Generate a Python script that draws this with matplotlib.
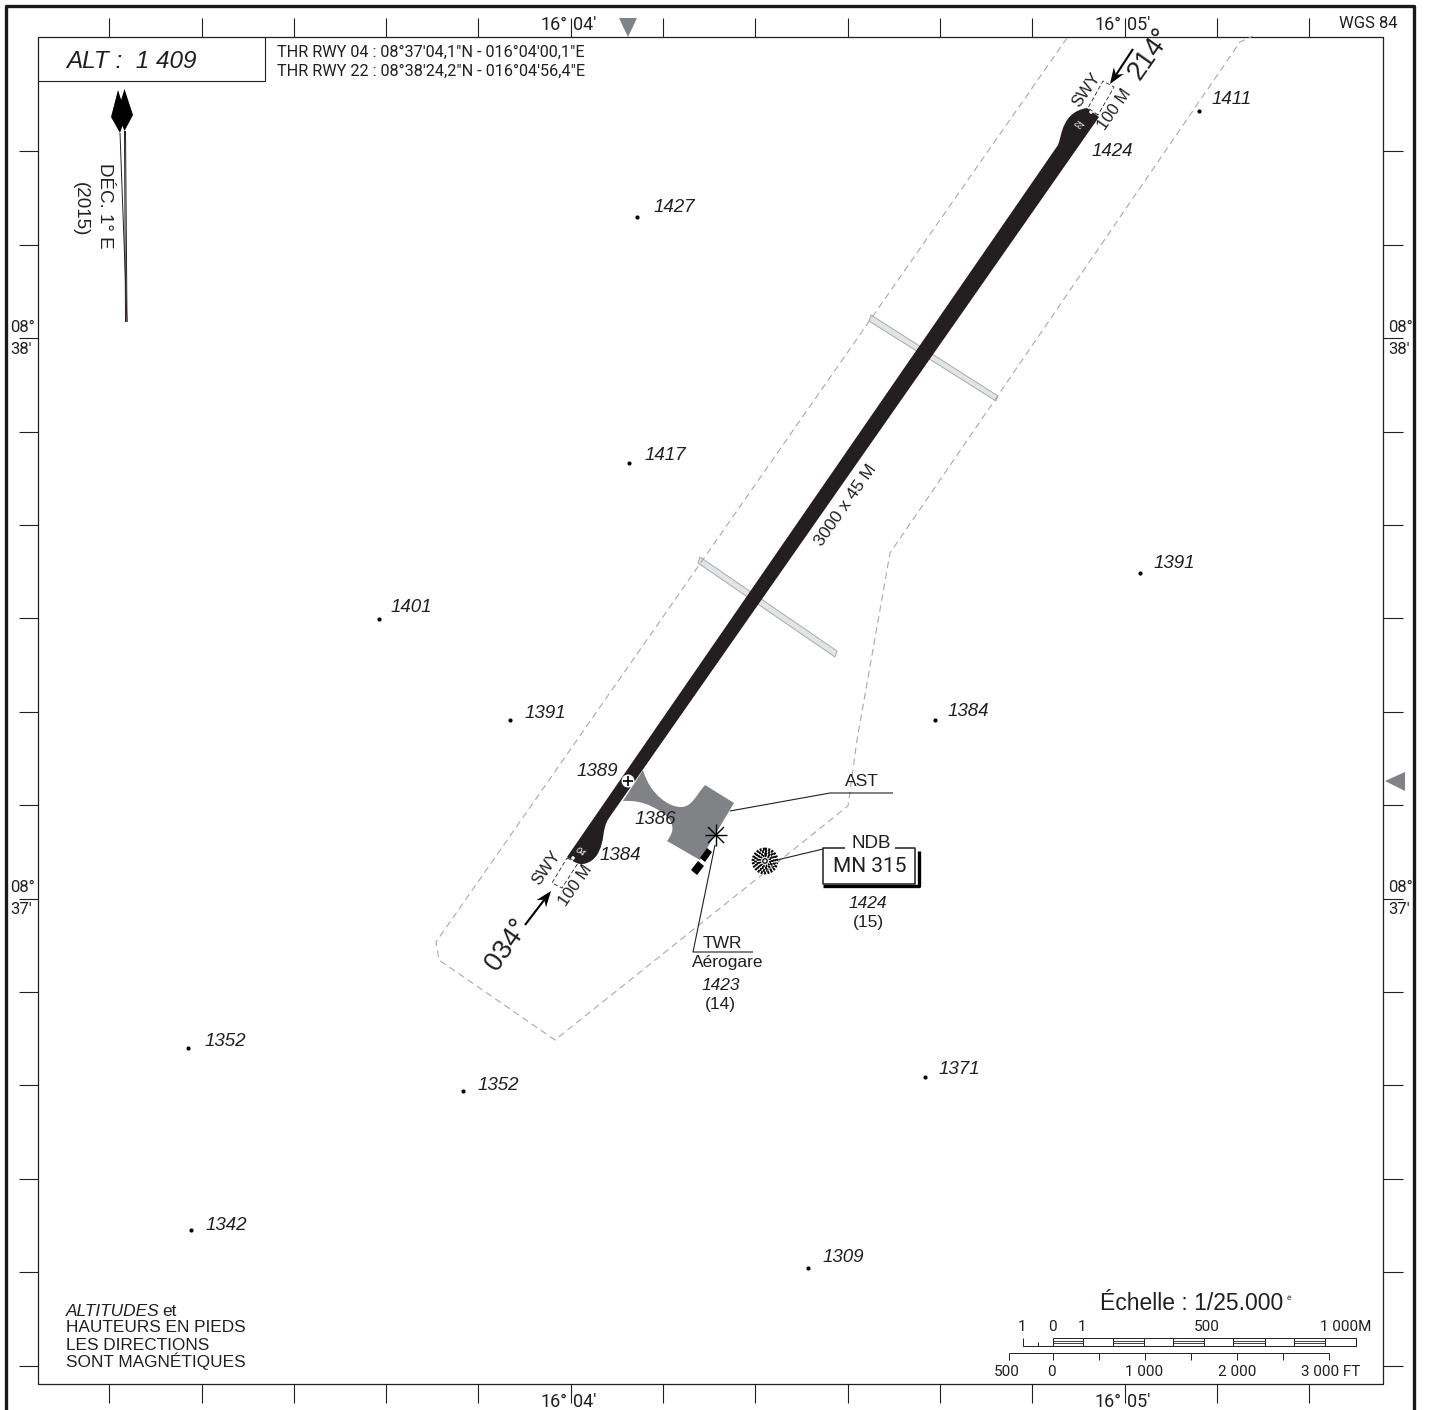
import math
import matplotlib
matplotlib.use('Agg')
import matplotlib.pyplot as plt
from matplotlib.patches import Polygon, Circle, PathPatch
from matplotlib.path import Path

INK = '#231f20'
GREY = '#808285'
NARROW = ['Roboto', 'Liberation Sans']
plt.rcParams['font.family'] = ['Liberation Sans', 'DejaVu Sans']

# graticule ticks
lon_ticks = [109, 201.5, 293.5, 386, 478, 571, 663, 755, 848, 940, 1032, 1125, 1217, 1309]
lat_ticks = [151, 245, 338, 432, 525, 618, 712, 805, 899, 992, 1085, 1179, 1272, 1366]

# spot elevations, feet
spot_elev = ['1411', '1427', '1417', '1391', '1401', '1391', '1384', '1352', '1352', '1371', '1342', '1309']
spot_x = [1199, 637, 629, 1140, 379, 510, 935, 188, 463, 925, 191, 808]
spot_y = [111, 217, 463, 573, 619, 720, 720, 1048, 1091, 1077, 1230, 1268]
spot_lx = [1212, 654, 645, 1154, 391, 525, 948, 205, 478, 939, 206, 823]
spot_ly = [99, 207, 454, 563, 607, 712, 711, 1040, 1084, 1068, 1224, 1257]

# elevations without a dot
note_elev = ['1424', '1389', '1386', '1384']
note_x = [1092, 577, 635, 600]
note_y = [151, 770, 818, 855]

# aerodrome outline
boundary_x = [1067, 436, 439, 555, 848, 857, 890, 1240, 1253]
boundary_y = [38, 942, 960, 1040, 806, 740, 553, 42, 36]

# runway and apron outlines with their path codes
M, L, C = Path.MOVETO, Path.LINETO, Path.CURVE4
runway_pts = [(567, 857), (1058, 145), (1062, 135), (1062, 112), (1087, 108), (1099, 117), (609, 818),
              (601, 830), (606, 840), (597, 855), (590, 865), (580, 865), (577, 863), (567, 857)]
runway_codes = [M, L, C, C, C, L, L, C, C, C, C, C, C, Path.CLOSEPOLY]
apron_pts = [(643, 770), (650, 795), (670, 808), (682, 807), (692, 806), (695, 797), (705, 785), (734, 803),
             (700, 860), (667, 841), (676, 830), (674, 820), (660, 811), (650, 805), (640, 800), (623, 801), (643, 770)]
apron_codes = [M, C, C, C, C, C, C, L, L, L, C, C, C, C, C, C, Path.CLOSEPOLY]
strip_a = [(871, 315), (998, 396), (996, 401), (869, 321)]
strip_b = [(700, 557), (837, 651), (835, 657), (698, 563)]
swy_a = [(567, 858), (578, 863), (562, 888), (552, 883), (567, 858)]
swy_b = [(1098, 115), (1088, 108), (1103, 81), (1114, 87), (1098, 115)]
bld_a = [(700, 858), (707, 848), (712, 852), (705, 862)]
bld_b = [(691, 870), (698, 861), (704, 866), (697, 875)]

# scale bars
metre_x = [1052.7, 1083.3, 1113.3, 1143.7, 1173.3, 1204, 1233.3, 1264.7, 1294.3, 1325, 1355.7]
foot_x = [1009.3, 1053.3, 1099.3, 1145, 1191, 1236.7, 1282.7, 1329]
metre_lab = [('1', 1022), ('0', 1052), ('1', 1082), ('500', 1207), ('1 000M', 1346)]
foot_lab = [('500', 1007), ('0', 1051), ('1 000', 1144), ('2 000', 1237), ('3 000 FT', 1331)]

fig = plt.figure(figsize=(14.31, 14.10), dpi=100)
ax = fig.add_axes([0, 0, 1, 1])
ax.set_xlim(0, 1431)
ax.set_ylim(1410, 0)
ax.axis('off')


def line(xs, ys, lw=0.8, c=INK, **kw):
    ax.plot(xs, ys, color=c, lw=lw, solid_capstyle='butt', **kw)


def txt(x, y, s, size=10, ha='center', va='center', narrow=False, **kw):
    if narrow:
        kw['family'] = NARROW
    ax.text(x, y + 1, s, fontsize=size, ha=ha, va=va, color=INK, **kw)


def arrow(x0, y0, x1, y1):
    # barbed head, 15 px long
    a = math.atan2(y1 - y0, x1 - x0)
    ux, uy = math.cos(a), math.sin(a)
    nx, ny = -uy, ux
    bx, by = x1 - 16 * ux, y1 - 16 * uy
    nox, noy = x1 - 11 * ux, y1 - 11 * uy
    line([x0, nox], [y0, noy], lw=1.5, c='black')
    ax.add_patch(Polygon([(x1, y1), (bx + 6 * nx, by + 6 * ny), (nox, noy), (bx - 6 * nx, by - 6 * ny)],
                         fc='black', ec='none'))


# frames
line([6, 6, 1414, 1414], [1410, 6, 6, 1410], lw=2.4, c='#1a1a1a')
line([38, 1383, 1383, 38, 38], [37, 37, 1384, 1384, 37], lw=0.9)
for x in lon_ticks:
    line([x, x], [18, 37])
    line([x, x], [1384, 1403])
for y in lat_ticks:
    line([19, 38], [y, y])
    line([1383, 1403], [y, y])

# header box
line([38, 265, 265], [81, 81, 37], lw=0.8)
txt(66, 60, 'ALT :  1 409', size=17.5, ha='left', style='italic')
txt(277, 51, 'THR RWY 04 : 08°37\'04,1"N - 016°04\'00,1"E', size=11.7, ha='left', narrow=True)
txt(277, 70, 'THR RWY 22 : 08°38\'24,2"N - 016°04\'56,4"E', size=11.7, ha='left', narrow=True)
txt(1368, 23, 'WGS 84', size=12, narrow=True)

# graticule labels
for x, d, m in [(571, '16°', "04'"), (1125, '16°', "05'")]:
    txt(x - 3, 24, d, size=13, ha='right', narrow=True)
    txt(x + 2, 24, m, size=13, ha='left', narrow=True)
    txt(x - 3, 1401, d, size=13, ha='right', narrow=True)
    txt(x + 2, 1401, m, size=13, ha='left', narrow=True)
for y, m in [(338, "38'"), (899, "37'")]:
    for x in (10, 1388):
        txt(x, y - 12, '08°', size=12, ha='left', narrow=True)
        txt(x, y + 10, m, size=12, ha='left', narrow=True)

# grey markers on the frame
ax.add_patch(Polygon([(619, 18), (637, 18), (628, 37)], fc=GREY, ec='none'))
ax.add_patch(Polygon([(1385, 781), (1405, 772), (1405, 791)], fc=GREY, ec='none'))

# magnetic declination
ax.add_patch(Polygon([(118, 90), (111, 117), (120, 133), (126, 115)], fc='black', ec='none'))
ax.add_patch(Polygon([(124.5, 89), (133, 115), (124.5, 131), (117, 113)], fc='black', ec='none'))
line([120, 127], [133, 322], lw=0.7)
line([124.5, 125.5], [131, 322], lw=0.7)
line([125.5, 127], [131, 322], lw=0.7)
txt(105, 205, 'DÉC. 1° E', size=13.5, rotation=-90)
txt(80, 208, '(2015)', size=13.5, rotation=-90)

# aerodrome
ax.plot(boundary_x, boundary_y, color='#a7a9ac', lw=0.8, ls=(0, (6, 4)))
ax.add_patch(Polygon(strip_a, fc='#e3e4e5', ec='#a7a9ac', lw=0.7))
ax.add_patch(Polygon(strip_b, fc='#e3e4e5', ec='#a7a9ac', lw=0.7))
ax.add_patch(PathPatch(Path(apron_pts, apron_codes), fc=GREY, ec='none'))
ax.add_patch(PathPatch(Path(runway_pts, runway_codes), fc=INK, ec='none'))
for sw in (swy_a, swy_b):
    ax.plot([p[0] for p in sw], [p[1] for p in sw], color=INK, lw=0.6, ls=(0, (5, 3)))
ax.add_patch(Polygon(bld_a, fc='black', ec='none'))
ax.add_patch(Polygon(bld_b, fc='black', ec='none'))

# threshold details
ax.add_patch(Circle((628, 781), 6.5, fc='white', ec='none'))
line([623, 633], [781, 781], lw=1.2, c='black')
line([628, 628], [776, 786], lw=1.2, c='black')
ax.add_patch(Circle((573, 858), 1.8, fc='white', ec='none'))
ax.add_patch(Circle((1091, 112), 1.8, fc='white', ec='none'))
ax.text(580, 852, '04', color='white', fontsize=6.5, rotation=-35, ha='center', va='center', style='italic')
ax.text(1081, 123, '22', color='white', fontsize=6.5, rotation=145, ha='center', va='center', style='italic')

# runway labels
txt(846, 504, '3000 x 45 M', size=12.5, rotation=55)
txt(546, 867, 'SWY', size=12, rotation=55)
txt(576, 884, '100 M', size=12, rotation=55)
txt(1086, 89, 'SWY', size=12, rotation=55)
txt(1115, 108, '100 M', size=12, rotation=55)
txt(507, 944, '034°', size=19.5, rotation=55)
txt(1150, 53, '214°', size=19.5, rotation=55)
arrow(525, 925, 551, 891)
arrow(1133, 49, 1110, 84)

# apron stand callout
txt(862, 781, 'AST', size=12.5)
line([730, 830, 893], [811, 793, 793])

# tower
for dx, dy in [(11, 0), (8, 8), (0, 11), (-8, 8)]:
    line([716 - dx, 716 + dx], [835 - dy, 835 + dy], lw=1.0, c='black')
line([715, 693, 753], [845, 952, 952])
txt(722, 943, 'TWR', size=12.5)
txt(728, 962, 'Aérogare', size=12.5)
txt(721, 985, '1423', size=12.5, style='italic')
txt(720, 1004, '(14)', size=12.5)

# NDB
ax.add_patch(Circle((765, 861), 13, fc='white', ec='none'))
for r, lw in [(12, 2.0), (9.5, 2.0), (7, 2.0), (5, 1.6)]:
    ax.add_patch(Circle((765, 861), r, fc='none', ec='black', lw=lw, ls=(0, (0.7, 0.5))))
ax.add_patch(Circle((765, 861), 2.2, fc='white', ec='black', lw=0.9))
line([777, 823], [860, 849], lw=0.8)
line([845, 823, 823, 915, 915, 895], [848, 848, 884, 884, 848, 848], lw=1.1)
line([823, 826, 919, 919], [886, 886, 886, 851], lw=2.4, c='black')
txt(871, 843, 'NDB', size=13.5)
txt(869.5, 866, 'MN 315', size=15, narrow=True)
txt(868, 903, '1424', size=12.5, style='italic')
txt(868, 922, '(15)', size=12.5)

# spot heights
ax.scatter(spot_x, spot_y, s=9, c='black', linewidths=0)
for s, x, y in zip(spot_elev, spot_lx, spot_ly):
    txt(x, y, s, size=13.5, ha='left', style='italic')
for s, x, y in zip(note_elev, note_x, note_y):
    txt(x, y, s, size=13.5, ha='left', style='italic')

# notes lower left
txt(66, 1311, 'ALTITUDES', size=12.4, ha='left', style='italic')
txt(162, 1311, 'et', size=12.4, ha='left')
txt(66, 1327, 'HAUTEURS EN PIEDS', size=12.4, ha='left')
txt(66, 1345, 'LES DIRECTIONS', size=12.4, ha='left')
txt(66, 1360, 'SONT MAGNÉTIQUES', size=12.4, ha='left')

# scale
txt(1100, 1303, 'Échelle : 1/25.000', size=16.5, ha='left')
txt(1289, 1297, 'è', size=6)
line([1023, 1023, metre_x[-1], metre_x[-1], metre_x[0], metre_x[0]], [1338, 1346, 1346, 1338, 1338, 1346], lw=0.7)
line([1038, 1038], [1342, 1346], lw=0.7)
for i, x in enumerate(metre_x):
    line([x, x], [1338, 1346], lw=0.7)
    if i < len(metre_x) - 1 and i % 2 == 0:
        line([x, metre_x[i + 1]], [1341, 1341], lw=0.6)
        line([x, metre_x[i + 1]], [1343, 1343], lw=0.6)
for s, x in metre_lab:
    txt(x, 1326, s, size=11, narrow=True)
line([foot_x[0], foot_x[-1]], [1353, 1353], lw=0.7)
for x in foot_x:
    line([x, x], [1353, 1360], lw=0.7)
for s, x in foot_lab:
    txt(x, 1371, s, size=11, narrow=True)

fig.savefig('out.png', dpi=100, facecolor='white')
plt.close(fig)
